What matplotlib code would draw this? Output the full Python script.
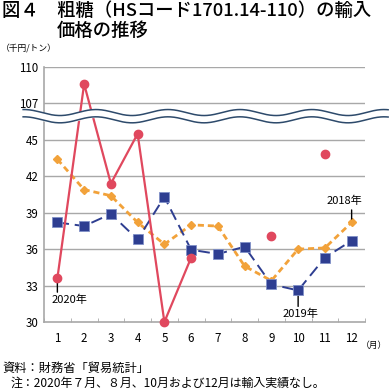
import numpy as np
import matplotlib
matplotlib.use("Agg")
import matplotlib.pyplot as plt
import matplotlib.transforms as mtransforms

plt.rcParams['font.family'] = ['Noto Sans CJK JP', 'DejaVu Sans']

months = list(range(1, 13))
month_labels = [str(m) for m in months]
# 2018 (orange), 2019 (blue), 2020 (red); None = no imports
v2018 = [43.4, 40.9, 40.4, 38.2, 36.4, 38.0, 37.9, 34.6, 33.4, 36.0, 36.1, 38.2]
v2019 = [38.2, 37.9, 38.9, 36.8, 40.3, 35.95, 35.6, 36.2, 33.1, 32.6, 35.3, 36.7]
v2020 = [33.6, 108.6, 41.4, 45.5, 30.0, 35.3, None, None, 37.1, None, 43.8, None]
ytick_values = [30, 33, 36, 39, 42, 45, 107, 110]

BREAK_SHIFT = 59  # values above the break are drawn shifted down by this amount


def to_axis(v):
    if v is None:
        return np.nan
    return v - BREAK_SHIFT if v > 100 else v


W, H = 392, 389
fig = plt.figure(figsize=(W / 100, H / 100), dpi=100)
ax = fig.add_axes([44 / W, (H - 322) / H, 321 / W, 255 / H])

RED = '#E0485E'
BLUE = '#2E3E91'
ORANGE = '#F2A23A'
GRID = '#A8A8A8'

y18 = np.array([to_axis(v) for v in v2018])
y19 = np.array([to_axis(v) for v in v2019])
y20 = np.array([to_axis(v) for v in v2020])

ax.plot(months, y18, color=ORANGE, lw=2.0, ls=(0, (2.2, 1.4)), marker='D',
        ms=4.5, mfc=ORANGE, mec=ORANGE, zorder=3)
ax.plot(months, y19, color=BLUE, lw=1.4, ls=(0, (6, 3)), marker='s',
        ms=6.5, mfc=BLUE, mec='#8090C8', mew=0.6, zorder=4)
ax.plot(months, y20, color=RED, lw=1.6, marker='o', ms=6,
        mfc=RED, mec=RED, zorder=5, clip_on=False)

ax.set_xlim(0.5, 12.5)
ax.set_ylim(30, 51)
yt = [to_axis(v) for v in ytick_values]
ax.set_yticks(yt)
ax.set_yticklabels([str(v) for v in ytick_values], fontsize=8.3)
ax.set_xticks(months)
ax.set_xticklabels(month_labels, fontsize=8.3)
ax.set_xticks(np.arange(0.5, 13, 1), minor=True)
ax.tick_params(axis='x', which='major', length=0, pad=7)
ax.tick_params(axis='x', which='minor', length=3, direction='in', color=GRID)
ax.tick_params(axis='y', length=0, pad=4)

for v in yt[1:]:
    ax.axhline(v, color=GRID, lw=1.0, zorder=1)
for s in ['top', 'right']:
    ax.spines[s].set_visible(False)
for s in ['left', 'bottom']:
    ax.spines[s].set_color(GRID)
    ax.spines[s].set_linewidth(1.2)

# break marks (wavy lines)
trans = mtransforms.blended_transform_factory(ax.transAxes, ax.transData)
xs = np.linspace(-0.065, 1.072, 400)
px = 44 + xs * 321
wave = np.cos(2 * np.pi * (px - 168) / 72)
amp = 3 / 12.14
yu = 47.25 + amp * wave
yl = 46.65 + amp * wave
ax.fill_between(xs, yl, yu, color='white', transform=trans, zorder=6, clip_on=False)
ax.plot(xs, yu, color='#2D4A6B', lw=1.1, transform=trans, clip_on=False, zorder=7)
ax.plot(xs, yl, color='#2D4A6B', lw=1.1, transform=trans, clip_on=False, zorder=7)

# labels
def label(x, y, text, line_from, line_to, text_off):
    ax.annotate('', xy=(x, y), xytext=(0, line_to), textcoords='offset points',
                xycoords='data',
                arrowprops=dict(arrowstyle='-', color='black', lw=1.0,
                                shrinkA=0, shrinkB=abs(line_from)))
    ax.annotate(text, xy=(x, y), xytext=text_off, textcoords='offset points',
                ha='center', va='center', fontsize=8, zorder=8)

label(1, y20[0], '2020年', -3, -10, (9, -15.5))
label(10, y19[9], '2019年', -3, -11.5, (1.4, -16.8))
label(12, y18[11], '2018年', 2.5, 9, (-5, 15.8))

# title and notes
def ftext(x, y, s, **kw):
    fig.text(x / W, 1 - y / H, s, **kw)

ftext(2, 11, '図４　粗糖（HSコード1701.14-110）の輸入', fontsize=13.2,
      fontweight='medium', va='center', ha='left')
ftext(57, 31, '価格の推移', fontsize=13.2, fontweight='medium', va='center', ha='left')
ftext(1, 48, '（千円/トン）', fontsize=6.3, va='center', ha='left')
ftext(361, 345, '（月）', fontsize=6.3, va='center', ha='left')
ftext(2, 368, '資料：財務省「貿易統計」', fontsize=8.8, va='center', ha='left')
ftext(11, 383, '注：2020年７月、８月、10月および12月は輸入実績なし。', fontsize=8.6,
      va='center', ha='left')

fig.savefig('out.png', dpi=100)
